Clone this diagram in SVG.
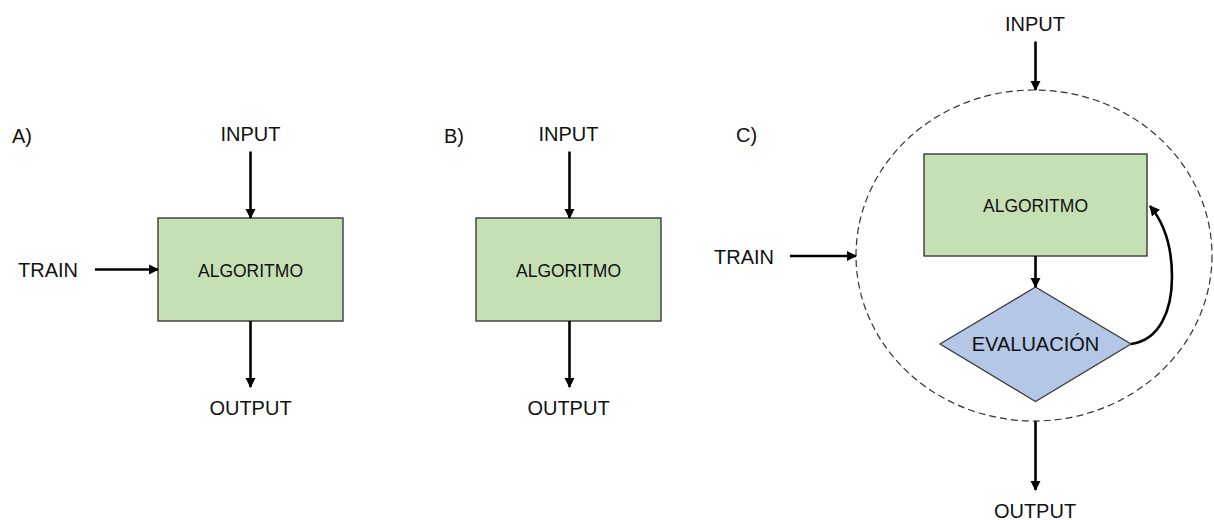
<svg xmlns="http://www.w3.org/2000/svg" width="1214" height="520" viewBox="0 0 1214 520">
  <style>
    text { font-family: "Liberation Sans", Arial, sans-serif; fill: #111; }
    .lbl { font-size: 20px; }
    .box-t { font-size: 17.5px; text-anchor: middle; }
    .mid { text-anchor: middle; }
    .algo { fill: #c5e0b4; stroke: #3a3a3a; stroke-width: 1.4; }
    .eval { fill: #b4c7e7; stroke: #3a3a3a; stroke-width: 1.3; }
    .arrow { stroke: #000; stroke-width: 2.6; fill: none; marker-end: url(#head); }
    .boundary { fill: none; stroke: #333; stroke-width: 1.2; stroke-dasharray: 7 4; }
  </style>
  <defs>
    <marker id="head" viewBox="0 0 10 10" refX="9" refY="5" markerWidth="4" markerHeight="4" orient="auto" markerUnits="strokeWidth">
      <path d="M0,0 L10,5 L0,10 Z" fill="#000"/>
    </marker>
  </defs>
  <rect width="1214" height="520" fill="#fff"/>

  <!-- panel A -->
  <g id="panel-a">
    <text class="lbl" x="12" y="143">A)</text>
    <g id="a-input"><text class="lbl mid" x="250.5" y="140.5">INPUT</text></g>
    <g id="a-train"><text class="lbl" x="18" y="277">TRAIN</text></g>
    <g id="a-algoritmo">
      <rect class="algo" x="158" y="218" width="185" height="103"/>
      <text class="box-t" x="250.5" y="276.5">ALGORITMO</text>
    </g>
    <g id="a-output"><text class="lbl mid" x="250.5" y="415">OUTPUT</text></g>
  </g>

  <!-- panel B -->
  <g id="panel-b">
    <text class="lbl" x="444" y="143">B)</text>
    <g id="b-input"><text class="lbl mid" x="568.5" y="140.5">INPUT</text></g>
    <g id="b-algoritmo">
      <rect class="algo" x="476" y="218" width="185" height="103"/>
      <text class="box-t" x="568.5" y="276.5">ALGORITMO</text>
    </g>
    <g id="b-output"><text class="lbl mid" x="568.5" y="415">OUTPUT</text></g>
  </g>

  <!-- panel C -->
  <g id="panel-c">
    <text class="lbl" x="736" y="142">C)</text>
    <g id="c-boundary"><ellipse class="boundary" cx="1034" cy="255.5" rx="178" ry="165.5"/></g>
    <g id="c-input"><text class="lbl mid" x="1035" y="31">INPUT</text></g>
    <g id="c-train"><text class="lbl" x="714" y="263.5">TRAIN</text></g>
    <g id="c-algoritmo">
      <rect class="algo" x="924" y="154" width="223" height="102"/>
      <text class="box-t" x="1035.5" y="211.5">ALGORITMO</text>
    </g>
    <g id="c-evaluacion">
      <polygon class="eval" points="1035.5,287 1131,344 1035.5,401.5 940,344"/>
      <text class="lbl mid" x="1035.5" y="351">EVALUACIÓN</text>
    </g>
    <g id="c-output"><text class="lbl mid" x="1035" y="518">OUTPUT</text></g>
  </g>

  <!-- connectors -->
  <g id="connectors">
    <line class="arrow" x1="250.5" y1="151.5" x2="250.5" y2="218"/>
    <line class="arrow" x1="95" y1="269.5" x2="158" y2="269.5"/>
    <line class="arrow" x1="250.5" y1="321" x2="250.5" y2="387"/>

    <line class="arrow" x1="569.5" y1="151.5" x2="569.5" y2="218"/>
    <line class="arrow" x1="569.5" y1="321" x2="569.5" y2="387"/>

    <line class="arrow" x1="1035.5" y1="41.5" x2="1035.5" y2="90"/>
    <line class="arrow" x1="790" y1="256" x2="856" y2="256"/>
    <line class="arrow" x1="1035.5" y1="256" x2="1035.5" y2="287"/>
    <!-- feedback loop: evaluation back into the algorithm -->
    <path class="arrow" d="M1131,344 C1160,340 1172,310 1172,277 C1172,248 1165,224 1150,206"/>
    <line class="arrow" x1="1035.5" y1="421" x2="1035.5" y2="490"/>
  </g>
</svg>
